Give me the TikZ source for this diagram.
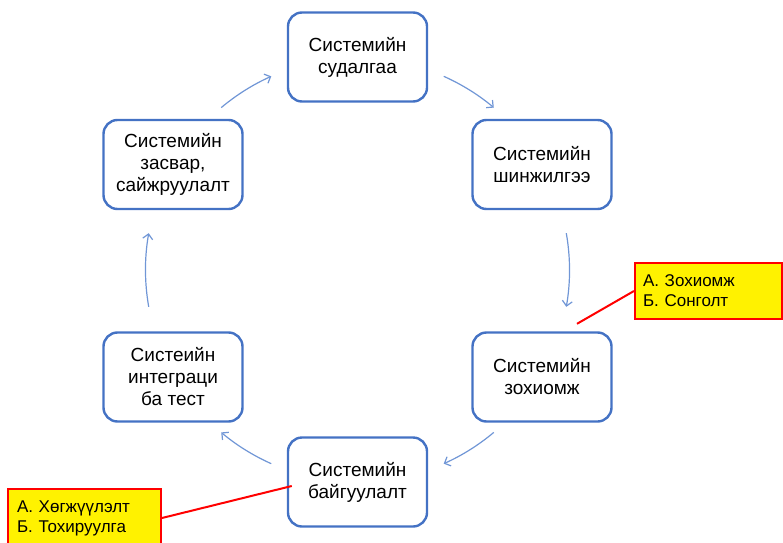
\documentclass[tikz,border=0pt]{standalone}
\usepackage{fontspec}
\setmainfont{Liberation Sans}
\usetikzlibrary{positioning,arrows.meta}
\definecolor{boxblue}{RGB}{68,114,196}
\definecolor{arrowblue}{RGB}{112,150,214}

\begin{document}
\begin{tikzpicture}[x=1pt,y=1pt,>={Straight Barb[length=5pt,width=10pt]},on grid,
  stage node/.style={rectangle,rounded corners=14pt,draw=boxblue,line width=2.4pt,fill=white,
    minimum width=139pt,minimum height=89pt,align=center,font=\fontsize{19}{22}\selectfont},
  note node/.style={rectangle,draw=red,line width=2pt,fill=yellow,align=left,
    font=\fontsize{17}{20}\selectfont},
  flow/.style={->,draw=arrowblue,line width=1.2pt},
  pin line/.style={draw=red,line width=2pt}]

  \useasboundingbox (0,0) rectangle (783,542);
  \coordinate (hub) at (357.5,272);

  \node[stage node] (study) at (357.5,485) {Системийн\\судалгаа};
  \node[stage node] (analysis) [below right=107.5pt and 184.5pt of study] {Системийн\\шинжилгээ};
  \node[stage node] (design) [below=212.5pt of analysis] {Системийн\\зохиомж};
  \node[stage node] (build) [below left=105pt and 184.5pt of design] {Системийн\\байгуулалт};
  \node[stage node] (integr) [above left=105pt and 184.5pt of build] {Систеийн\\интеграци\\ба тест};
  \node[stage node] (repair) [above=212.5pt of integr] {Системийн\\засвар,\\сайжруулалт};

  \foreach \s/\e in {66/50,10/-10,-50/-66,-114/-130,190/170,130/114}
    \draw[flow] (hub) ++(\s:212pt) arc[start angle=\s,end angle=\e,radius=212pt];

  \node[note node,text width=131pt,inner xsep=8pt,minimum height=56pt] (note1) at (708.5,251)
    {А. Зохиомж\\Б. Сонголт};
  \node[note node,text width=135pt,inner xsep=9pt,minimum height=58pt] (note2) at (84.5,24)
    {А. Хөгжүүлэлт\\Б. Тохируулга};

  \draw[pin line] (note1.west) -- ([shift={(35pt,7.5pt)}]design.north);
  \draw[pin line] (note2.east) -- ([shift={(5pt,-4pt)}]build.west);

\end{tikzpicture}
\end{document}
